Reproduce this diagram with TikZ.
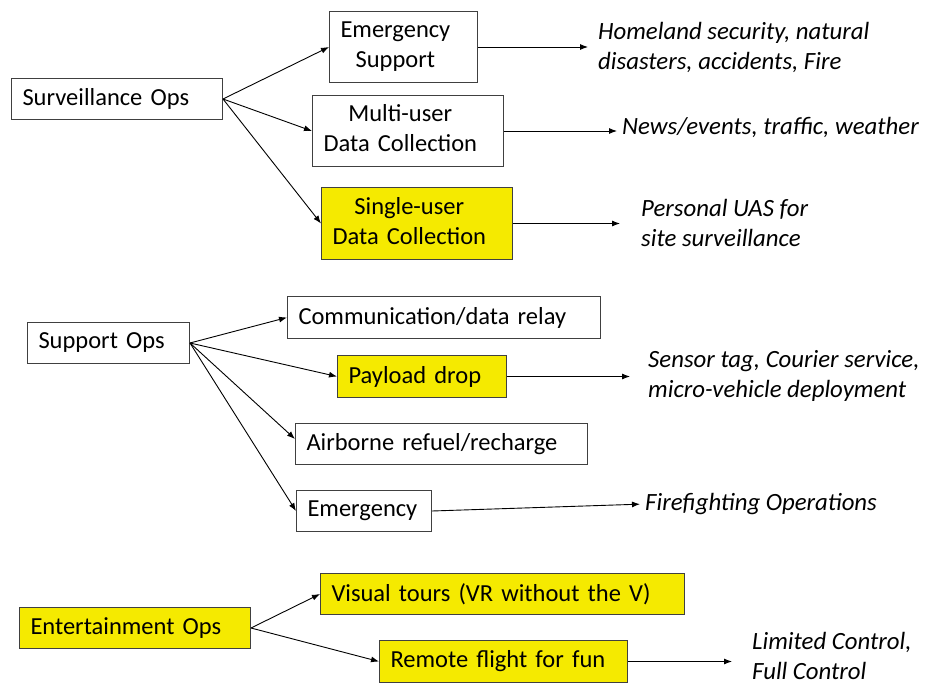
\documentclass[tikz,border=0pt]{standalone}
\usepackage{fontspec}
\setmainfont{Carlito}
\usepackage{xcolor}
\usetikzlibrary{arrows.meta}
\definecolor{opyellow}{RGB}{245,234,0}

\begin{document}
\begin{tikzpicture}[
  x=1pt, y=-1pt,
  opbox/.style={
    rectangle,
    draw=black!75,
    line width=1pt,
    fill=#1,
    anchor=north west,
    inner xsep=11pt,
    inner ysep=2pt,
    align=left,
    font=\fontsize{24.5}{30}\selectfont
  },
  opbox/.default=white,
  note/.style={
    anchor=west,
    inner sep=0pt,
    align=left,
    font=\fontsize{24.8}{30}\selectfont\itshape
  },
  flow/.style={
    -{Latex[length=8pt,width=6pt]},
    line width=0.9pt,
    draw=black
  }
]
\useasboundingbox (0,0) rectangle (928,687);

% Surveillance
\node[opbox, text width=189pt, minimum height=41pt] (surv) at (11,78) {Surveillance Ops};
\node[opbox, text width=126pt, minimum height=71pt] (emsup) at (329,11)
  {\begin{tabular}{@{}c@{}}Emergency\\Support\end{tabular}};
\node[opbox, text width=169pt, minimum height=71pt] (multi) at (312,95)
  {\begin{tabular}{@{}c@{}}Multi-user\\Data Collection\end{tabular}};
\node[opbox=opyellow, text width=169pt, minimum height=72pt] (single) at (321,187)
  {\begin{tabular}{@{}c@{}}Single-user\\Data Collection\end{tabular}};

\node[note] (homeland) at (598,47) {Homeland security, natural\\disasters, accidents, Fire};
\node[note] (news) at (622,127) {News/events, traffic, weather};
\node[note] (personal) at (641,223) {Personal UAS for\\site surveillance};

% Support
\node[opbox, text width=140pt, minimum height=41pt] (sup) at (27,322) {Support Ops};
\node[opbox, text width=291pt, minimum height=42pt] (comm) at (287,296) {Communication/data relay};
\node[opbox=opyellow, text width=147pt, minimum height=42pt] (pay) at (337,355) {Payload drop};
\node[opbox, text width=270pt, minimum height=41pt] (air) at (295,423) {Airborne refuel/recharge};
\node[opbox, text width=113pt, minimum height=41pt] (emer) at (296,490) {Emergency};

\node[note] (sensor) at (648,376) {Sensor tag, Courier service,\\micro-vehicle deployment};
\node[note] (fire) at (645,504) {Firefighting Operations};

% Entertainment
\node[opbox=opyellow, text width=209pt, minimum height=41pt] (ent) at (19,607) {Entertainment Ops};
\node[opbox=opyellow, text width=342pt, minimum height=41pt] (vis) at (320,573) {Visual tours (VR without the V)};
\node[opbox=opyellow, text width=226pt, minimum height=42pt] (rem) at (379,640) {Remote flight for fun};

\node[note] (limited) at (752,656) {Limited Control,\\Full Control};

% Connections
\draw[flow] (surv.east) -- (emsup.west);
\draw[flow] (surv.east) -- (multi.west);
\draw[flow] (surv.east) -- (single.west);
\draw[flow, shorten >=10pt] (emsup.east) -- (emsup.east -| homeland.west);
\draw[flow, shorten >=5pt] (multi.east) -- (multi.east -| news.west);
\draw[flow, shorten >=21pt] (single.east) -- (single.east -| personal.west);

\draw[flow] (sup.east) -- (comm.west);
\draw[flow] (sup.east) -- (pay.west);
\draw[flow] (sup.east) -- ([yshift=5pt]air.west);
\draw[flow] (sup.east) -- (emer.west);
\draw[flow, shorten >=18pt] (pay.east) -- (pay.east -| sensor.west);
\draw[flow, shorten >=5pt] (emer.east) -- (fire.west);

\draw[flow] (ent.east) -- (vis.west);
\draw[flow] (ent.east) -- (rem.west);
\draw[flow, shorten >=20pt] (rem.east) -- (rem.east -| limited.west);
\end{tikzpicture}
\end{document}
